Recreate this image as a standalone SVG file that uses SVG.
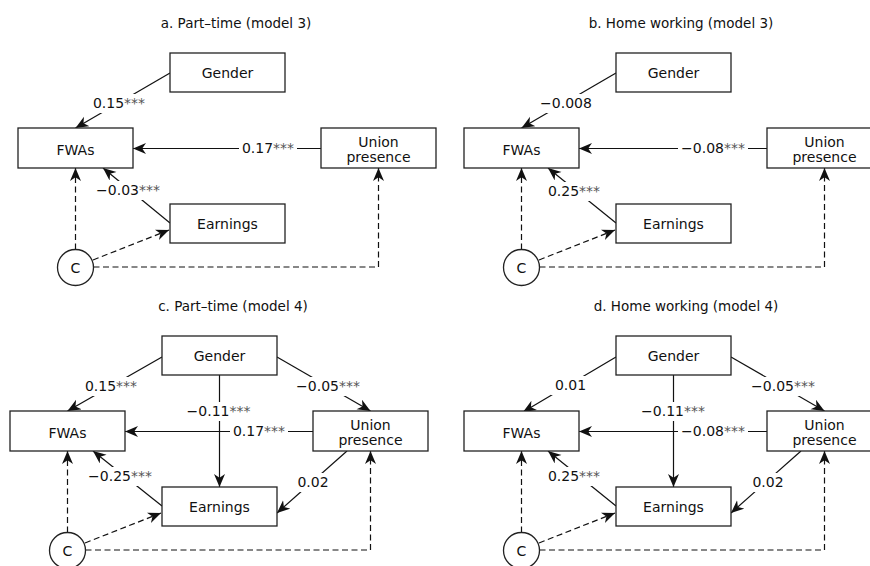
<svg xmlns="http://www.w3.org/2000/svg" width="870" height="566" viewBox="0 0 870 566">
<style>
text{font-family:"DejaVu Sans","Liberation Sans",sans-serif;font-size:14px;fill:#111;text-anchor:middle}
text.t{font-size:13.5px}
tspan.s{fill:#555}
.box{fill:#fff;stroke:#222;stroke-width:1.3}
.ln{fill:none;stroke:#111;stroke-width:1.2;marker-end:url(#ah)}
.dash{fill:none;stroke:#111;stroke-width:1.2;stroke-dasharray:6 3.5;marker-end:url(#ah)}
.bg{fill:#fff}
</style>
<defs>
<marker id="ah" markerWidth="14" markerHeight="12" refX="13" refY="5.5" orient="auto" markerUnits="userSpaceOnUse">
<path d="M0,0 L13,5.5 L0,11 L3.8,5.5 Z" fill="#111"/>
</marker>
</defs>
<rect width="870" height="566" fill="#fff"/>

<text class="t" x="236" y="28">a. Part–time (model 3)</text>
<text class="t" x="681" y="28">b. Home working (model 3)</text>
<text class="t" x="233" y="311">c. Part–time (model 4)</text>
<text class="t" x="686" y="311">d. Home working (model 4)</text>

<!-- Panel a -->
<g id="panel-a">
<g id="a-connectors">
<path class="ln" d="M170,73 L75.5,128"/>
<path class="ln" d="M321,148.5 L133,148.5"/>
<path class="ln" d="M170,223 L103,168"/>
<path class="dash" d="M75.5,249.5 L75.5,168"/>
<path class="dash" d="M93,260 L169,230"/>
<path class="dash" d="M93.5,267 H378.5 V168"/>
<rect class="bg" x="90" y="94" width="58" height="19"/><text x="119" y="108">0.15<tspan class="s">***</tspan></text>
<rect class="bg" x="239" y="139" width="58" height="19"/><text x="268" y="153">0.17<tspan class="s">***</tspan></text>
<rect class="bg" x="93" y="181" width="70" height="19"/><text x="128" y="195">−0.03<tspan class="s">***</tspan></text>
</g>
<g id="a-fwas"><rect class="box" x="18" y="128" width="115" height="40"/><text x="75.5" y="154.5">FWAs</text></g>
<g id="a-gender"><rect class="box" x="170" y="53" width="115" height="39"/><text x="227.5" y="78">Gender</text></g>
<g id="a-union"><rect class="box" x="321" y="128" width="115" height="40"/><text x="378.5" y="146.5">Union</text><text x="378.5" y="161.5">presence</text></g>
<g id="a-earnings"><rect class="box" x="170" y="204" width="115" height="39"/><text x="227.5" y="228.5">Earnings</text></g>
<g id="a-c"><circle class="box" cx="75.5" cy="267.5" r="18"/><text x="75.5" y="272.5">C</text></g>
</g>

<!-- Panel b -->
<g id="panel-b" transform="translate(446,0)">
<g id="b-connectors">
<path class="ln" d="M170,73 L75.5,128"/>
<path class="ln" d="M321,148.5 L133,148.5"/>
<path class="ln" d="M170,223 L102,168"/>
<path class="dash" d="M75.5,249.5 L75.5,168"/>
<path class="dash" d="M93,260 L169,230"/>
<path class="dash" d="M93.5,267 H378.5 V168"/>
<rect class="bg" x="91" y="94" width="58" height="19"/><text x="120" y="108">−0.008</text>
<rect class="bg" x="232" y="139" width="70" height="19"/><text x="267" y="153">−0.08<tspan class="s">***</tspan></text>
<rect class="bg" x="99" y="182" width="58" height="19"/><text x="128" y="196">0.25<tspan class="s">***</tspan></text>
</g>
<g id="b-fwas"><rect class="box" x="18" y="128" width="115" height="40"/><text x="75.5" y="154.5">FWAs</text></g>
<g id="b-gender"><rect class="box" x="170" y="53" width="115" height="39"/><text x="227.5" y="78">Gender</text></g>
<g id="b-union"><rect class="box" x="321" y="128" width="115" height="40"/><text x="378.5" y="146.5">Union</text><text x="378.5" y="161.5">presence</text></g>
<g id="b-earnings"><rect class="box" x="170" y="204" width="115" height="39"/><text x="227.5" y="228.5">Earnings</text></g>
<g id="b-c"><circle class="box" cx="75.5" cy="267.5" r="18"/><text x="75.5" y="272.5">C</text></g>
</g>

<!-- Panel c -->
<g id="panel-c" transform="translate(-8,283)">
<g id="c-connectors">
<path class="ln" d="M170,74 L75.5,128"/>
<path class="ln" d="M285,74 L378.5,128"/>
<path class="ln" d="M227.5,92 L227.5,204"/>
<path class="ln" d="M321,148.5 L133,148.5"/>
<path class="ln" d="M170,223 L101,168"/>
<path class="ln" d="M355,168 L285,230"/>
<path class="dash" d="M75.5,249.5 L75.5,168"/>
<path class="dash" d="M93,260 L169,230"/>
<path class="dash" d="M93.5,267 H378.5 V168"/>
<rect class="bg" x="90" y="94" width="58" height="19"/><text x="119" y="108">0.15<tspan class="s">***</tspan></text>
<rect class="bg" x="301" y="94" width="70" height="19"/><text x="336" y="108">−0.05<tspan class="s">***</tspan></text>
<rect class="bg" x="192" y="119" width="70" height="19"/><text x="226.5" y="133">−0.11<tspan class="s">***</tspan></text>
<rect class="bg" x="238" y="139" width="58" height="19"/><text x="267" y="153">0.17<tspan class="s">***</tspan></text>
<rect class="bg" x="93" y="184" width="70" height="19"/><text x="128" y="198">−0.25<tspan class="s">***</tspan></text>
<rect class="bg" x="302" y="190" width="38" height="19"/><text x="321" y="204">0.02</text>
</g>
<g id="c-fwas"><rect class="box" x="18" y="128" width="115" height="40"/><text x="75.5" y="154.5">FWAs</text></g>
<g id="c-gender"><rect class="box" x="170" y="53" width="115" height="39"/><text x="227.5" y="78">Gender</text></g>
<g id="c-union"><rect class="box" x="321" y="128" width="115" height="40"/><text x="378.5" y="146.5">Union</text><text x="378.5" y="161.5">presence</text></g>
<g id="c-earnings"><rect class="box" x="170" y="204" width="115" height="39"/><text x="227.5" y="228.5">Earnings</text></g>
<g id="c-c"><circle class="box" cx="75.5" cy="267.5" r="18"/><text x="75.5" y="272.5">C</text></g>
</g>

<!-- Panel d -->
<g id="panel-d" transform="translate(446,283)">
<g id="d-connectors">
<path class="ln" d="M170,74 L77,129"/>
<path class="ln" d="M285,74 L378.5,128"/>
<path class="ln" d="M227.5,92 L227.5,204"/>
<path class="ln" d="M321,148.5 L133,148.5"/>
<path class="ln" d="M170,223 L102,168"/>
<path class="ln" d="M355,168 L285,230"/>
<path class="dash" d="M75.5,249.5 L75.5,168"/>
<path class="dash" d="M93,260 L169,230"/>
<path class="dash" d="M93.5,267 H378.5 V168"/>
<rect class="bg" x="105" y="93" width="39" height="19"/><text x="124.5" y="107">0.01</text>
<rect class="bg" x="302" y="94" width="70" height="19"/><text x="337" y="108">−0.05<tspan class="s">***</tspan></text>
<rect class="bg" x="192" y="119" width="70" height="19"/><text x="227" y="133">−0.11<tspan class="s">***</tspan></text>
<rect class="bg" x="232" y="139" width="70" height="19"/><text x="267" y="153">−0.08<tspan class="s">***</tspan></text>
<rect class="bg" x="99" y="184" width="58" height="19"/><text x="128" y="198">0.25<tspan class="s">***</tspan></text>
<rect class="bg" x="303" y="190" width="38" height="19"/><text x="322" y="204">0.02</text>
</g>
<g id="d-fwas"><rect class="box" x="18" y="128" width="115" height="40"/><text x="75.5" y="154.5">FWAs</text></g>
<g id="d-gender"><rect class="box" x="170" y="53" width="115" height="39"/><text x="227.5" y="78">Gender</text></g>
<g id="d-union"><rect class="box" x="321" y="128" width="115" height="40"/><text x="378.5" y="146.5">Union</text><text x="378.5" y="161.5">presence</text></g>
<g id="d-earnings"><rect class="box" x="170" y="204" width="115" height="39"/><text x="227.5" y="228.5">Earnings</text></g>
<g id="d-c"><circle class="box" cx="75.5" cy="267.5" r="18"/><text x="75.5" y="272.5">C</text></g>
</g>
</svg>
